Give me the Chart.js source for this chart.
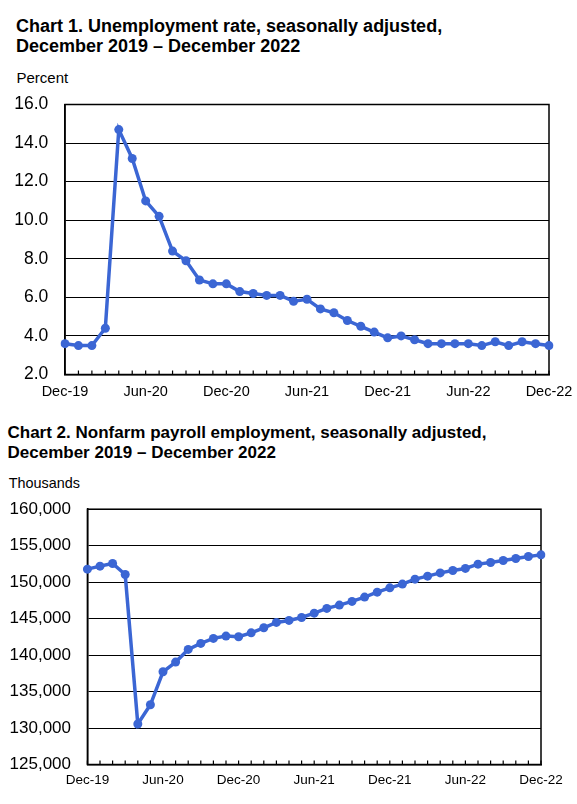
<!DOCTYPE html>
<html lang="en">
<head>
  <meta charset="UTF-8">
  <title>Unemployment rate and nonfarm payroll employment</title>
  <style>
    body {
      margin: 0;
      padding: 0;
      background: #fff;
      font-family: "Liberation Sans", Arial, sans-serif;
      color: #000;
    }
    .page {
      position: relative;
      width: 577px;
      height: 804px;
    }
    .title {
      position: absolute;
      font-weight: bold;
      white-space: nowrap;
    }
    .unit {
      position: absolute;
      white-space: nowrap;
      line-height: 18px;
    }
    canvas {
      position: absolute;
      left: 0;
    }
  </style>
  <script src="https://cdn.jsdelivr.net/npm/chart.js"></script>
</head>
<body>
  <div class="page">
    <div class="title" style="left:16px; top:15.6px; font-size:18px; line-height:20.7px;">
      Chart 1. Unemployment rate, seasonally adjusted,<br>December 2019 – December 2022
    </div>
    <div class="unit" style="left:16.5px; top:69.3px; font-size:15px;">Percent</div>
    <canvas id="rate-chart" width="577" height="311" style="top:94px;"></canvas>

    <div class="title" style="left:7.5px; top:423.2px; font-size:17px; line-height:19.7px;">
      Chart 2. Nonfarm payroll employment, seasonally adjusted,<br>December 2019 – December 2022
    </div>
    <div class="unit" style="left:8.8px; top:473.5px; font-size:14.4px;">Thousands</div>
    <canvas id="payroll-chart" width="577" height="296" style="top:499px;"></canvas>
  </div>

  <script>
    // months, Dec 2019 through Dec 2022
    const months = [
      'Dec-19', 'Jan-20', 'Feb-20', 'Mar-20', 'Apr-20', 'May-20', 'Jun-20', 'Jul-20', 'Aug-20', 'Sep-20', 'Oct-20', 'Nov-20',
      'Dec-20', 'Jan-21', 'Feb-21', 'Mar-21', 'Apr-21', 'May-21', 'Jun-21', 'Jul-21', 'Aug-21', 'Sep-21', 'Oct-21', 'Nov-21',
      'Dec-21', 'Jan-22', 'Feb-22', 'Mar-22', 'Apr-22', 'May-22', 'Jun-22', 'Jul-22', 'Aug-22', 'Sep-22', 'Oct-22', 'Nov-22',
      'Dec-22'
    ];
    const tickLabels = ['Dec-19', 'Jun-20', 'Dec-20', 'Jun-21', 'Dec-21', 'Jun-22', 'Dec-22'];

    // unemployment rate, percent
    const unemploymentRate = [
      3.6, 3.5, 3.5, 4.4, 14.7, 13.2, 11.0, 10.2, 8.4, 7.9, 6.9, 6.7,
      6.7, 6.3, 6.2, 6.1, 6.1, 5.8, 5.9, 5.4, 5.2, 4.8, 4.5, 4.2,
      3.9, 4.0, 3.8, 3.6, 3.6, 3.6, 3.6, 3.5, 3.7, 3.5, 3.7, 3.6,
      3.5
    ];
    const rateTicks = [2, 4, 6, 8, 10, 12, 14, 16];

    // nonfarm payroll employment, thousands
    const payrollEmployment = [
      151780, 152190, 152560, 151050, 130550, 133190, 137710, 139040, 140780, 141600, 142290, 142600,
      142510, 143050, 143740, 144480, 144750, 145160, 145750, 146400, 146850, 147360, 147950, 148630,
      149220, 149730, 150410, 150820, 151270, 151600, 151880, 152470, 152700, 152970, 153240, 153520,
      153740
    ];
    const payrollTicks = [125000, 130000, 135000, 140000, 145000, 150000, 155000, 160000];

    const lineColor = '#3b66d4';
    const fontFamily = '"Liberation Sans", Arial, sans-serif';

    // box round the plot and the small month ticks standing up from the x axis
    const frameAndTicks = {
      id: 'frameAndTicks',
      beforeDatasetsDraw(chart) {
        const ctx = chart.ctx;
        const area = chart.chartArea;
        const x = chart.scales.x;
        ctx.save();
        ctx.strokeStyle = '#000';
        ctx.lineWidth = 1.5;
        ctx.strokeRect(area.left, area.top, area.right - area.left, area.bottom - area.top);
        ctx.lineWidth = 1.2;
        ctx.beginPath();
        for (let i = 0; i < months.length; i++) {
          const px = x.getPixelForValue(i);
          ctx.moveTo(px, area.bottom);
          ctx.lineTo(px, area.bottom - 4);
        }
        ctx.stroke();
        ctx.restore();
      }
    };

    // label gaps come from invisible tick marks (tickLength), so the
    // ticks.padding does not push the plot area in
    function makeChart(canvasId, values, yTicks, opts) {
      const ctx = document.getElementById(canvasId).getContext('2d');
      return new Chart(ctx, {
        type: 'line',
        data: {
          labels: months,
          datasets: [{
            data: values,
            borderColor: lineColor,
            backgroundColor: lineColor,
            borderWidth: 3.5,
            pointRadius: 4.5,
            pointBackgroundColor: lineColor,
            pointBorderWidth: 0,
            tension: 0,
          }],
        },
        options: {
          responsive: false,
          animation: false,
          layout: {
            padding: { top: 0, right: opts.padRight, left: 0, bottom: 0 },
          },
          plugins: {
            legend: { display: false },
            tooltip: { enabled: false },
          },
          scales: {
            x: {
              type: 'category',
              offset: false,
              grid: {
                display: true,
                drawOnChartArea: false,
                drawTicks: true,
                tickLength: opts.xGap,
                tickColor: 'rgba(0,0,0,0)',
              },
              border: { display: true, color: '#000', width: 1.5 },
              ticks: {
                autoSkip: false,
                maxRotation: 0,
                padding: 0,
                color: '#000',
                font: { family: fontFamily, size: opts.xFont },
                callback: function (value, index) {
                  const label = months[index];
                  return tickLabels.includes(label) ? label : '';
                },
              },
              afterFit(scale) { scale.height = opts.xHeight; },
            },
            y: {
              min: yTicks[0],
              max: yTicks[yTicks.length - 1],
              afterBuildTicks(scale) {
                scale.ticks = yTicks.map(v => ({ value: v }));
              },
              grid: {
                color: '#000',
                lineWidth: 1,
                drawTicks: true,
                tickLength: opts.yGap,
                tickColor: 'rgba(0,0,0,0)',
              },
              border: { display: true, color: '#000', width: 1.5 },
              ticks: {
                padding: 0,
                color: '#000',
                font: { family: fontFamily, size: opts.yFont },
                callback: opts.format,
              },
              afterFit(scale) { scale.width = opts.yWidth; },
            },
          },
        },
        plugins: [frameAndTicks],
      });
    }

    document.addEventListener('DOMContentLoaded', function () {
      makeChart('rate-chart', unemploymentRate, rateTicks, {
        padRight: 28, yWidth: 65, xHeight: 30.5,
        yGap: 16.7, xGap: 8.5, yFont: 17.5, xFont: 14.5,
        format: v => Number(v).toFixed(1),
      });
      makeChart('payroll-chart', payrollEmployment, payrollTicks, {
        padRight: 36, yWidth: 87.4, xHeight: 30.5,
        yGap: 16.4, xGap: 7.4, yFont: 17, xFont: 13.5,
        format: v => Number(v).toLocaleString('en-US'),
      });
    });
  </script>
</body>
</html>
